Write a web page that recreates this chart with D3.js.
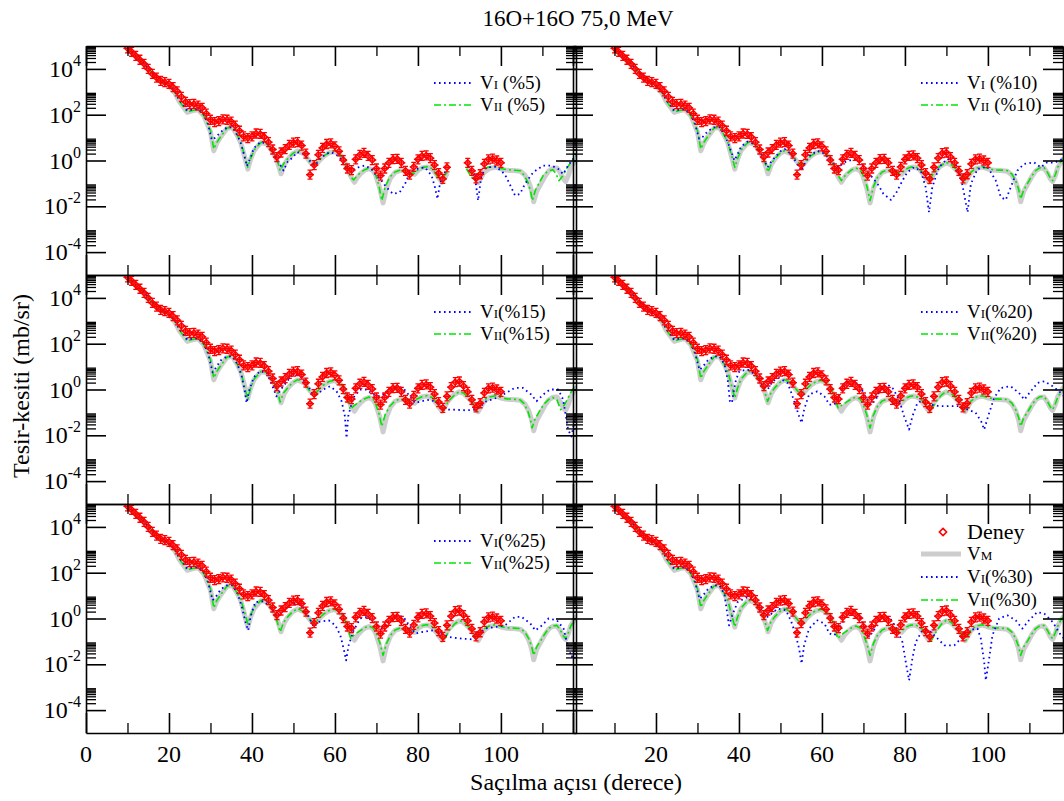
<!DOCTYPE html>
<html>
<head>
<meta charset="utf-8">
<script src="https://cdn.jsdelivr.net/npm/d3@7"></script>
<style>
	body { margin: 0; background: #fff; }
	text { font-family: "Liberation Serif", "Times New Roman", serif; fill: #000; }
</style>
</head>
<body>
<svg id="chart" width="1064" height="801"></svg>
<script>
// values are [angle (deg), log10 of cross section (mb/sr)]
var deney = [[10,4.90],[11,4.75],[12,4.57],[13,4.40],[14,4.22],[15,4.00],[16,3.78],[17,3.62],[18,3.48],[19,3.42],[20,3.35],[21,3.20],[22,3.02],[23,2.78],[24,2.56],[25,2.46],[26,2.47],[27,2.40],[28,2.30],[29,2.05],[30,1.78],[31,1.68],[32,1.72],[33,1.80],[34,1.78],[35,1.70],[36,1.52],[37,1.30],[38,1.05],[39,0.98],[40,1.05],[41,1.18],[42,1.16],[43,1.02],[44,0.80],[45,0.48],[46,0.15],[47,0.35],[48,0.50],[49,0.68],[50,0.78],[51,0.80],[52,0.65],[53,0.30],[54,-0.62],[55,-0.20],[56,0.25],[57,0.55],[58,0.72],[59,0.75],[60,0.62],[61,0.40],[62,0.02],[63,-0.35],[64,-0.42],[65,0.05],[66,0.25],[67,0.33],[68,0.20],[69,0.02],[70,-0.35],[71,-0.66],[72,-0.35],[73,-0.10],[74,0.06],[75,0.07],[76,-0.10],[77,-0.45],[78,-0.62],[79,-0.28],[80,0.05],[81,0.20],[82,0.22],[83,0.10],[84,-0.20],[85,-0.55],[86,-0.80],[87,-0.30],[88,0.10],[89,0.32],[90,0.35],[91,0.15],[92,-0.10],[93,-0.45],[94,-0.78],[95,-0.60],[96,-0.15],[97,0.05],[98,0.08],[99,0.00],[100,-0.10]];

var vM = [[10,4.88],[12,4.55],[14,4.21],[16,3.79],[17.5,3.50],[19,3.37],[20.4,3.18],[21.5,2.93],[22.4,2.60],[23.5,2.33],[24.4,2.10],[25.6,2.17],[27,2.22],[28.4,1.95],[29.4,1.52],[30,1.25],[30.8,0.42],[31.5,0.75],[32.5,1.04],[34,1.41],[35.3,1.44],[36.5,1.08],[37.3,0.78],[38.1,0.25],[39,-0.38],[39.6,0.02],[40.5,0.43],[42.2,0.79],[43.8,0.71],[44.6,0.48],[45.4,0.26],[46.2,-0.10],[47,-0.58],[47.8,-0.18],[48.6,0.05],[49.8,0.29],[51,0.42],[52.6,0.28],[53.5,0.06],[54.2,-0.10],[55,-0.22],[55.6,-0.15],[56.4,0.03],[57.4,0.20],[58.6,0.34],[59.8,0.39],[61,0.29],[61.9,0.12],[63,-0.35],[63.9,-0.72],[64.7,-0.95],[65.4,-0.74],[66.2,-0.57],[67.2,-0.42],[68.2,-0.35],[69.2,-0.45],[69.8,-0.63],[70.8,-1.20],[71.6,-1.85],[72.4,-1.22],[73.4,-0.76],[74.5,-0.52],[75.8,-0.43],[77,-0.47],[78.2,-0.55],[79.2,-0.60],[80.2,-0.40],[81.2,-0.31],[82.2,-0.28],[83.4,-0.37],[84.2,-0.55],[85,-0.75],[85.8,-0.95],[86.6,-0.72],[87.1,-0.54],[88.4,-0.27],[89.9,-0.10],[91,-0.17],[91.9,-0.32],[93,-0.53],[93.9,-0.78],[94.5,-0.97],[95.2,-0.74],[95.9,-0.53],[97.2,-0.35],[98.7,-0.29],[100,-0.37],[101.5,-0.43],[103,-0.44],[104.7,-0.47],[105.8,-0.64],[106.7,-0.93],[107.4,-1.32],[107.9,-1.80],[108.6,-1.36],[109.5,-1.06],[110.5,-0.73],[111.5,-0.46],[112.5,-0.34],[113.5,-0.33],[114.3,-0.53],[115,-0.78],[115.6,-0.92],[116.3,-0.63],[116.8,-0.33],[117.6,-0.07],[118.4,0.12]];

var vI5 = [[10,4.87],[12,4.56],[14,4.23],[16,3.82],[17.5,3.55],[19,3.40],[20.4,3.22],[21.5,2.98],[22.4,2.68],[23.5,2.40],[24.4,2.18],[25.6,2.22],[27,2.25],[28.4,2.00],[29.4,1.60],[30.3,0.90],[31.2,1.00],[32.5,1.25],[34,1.45],[35.3,1.45],[36.5,1.10],[37.3,0.75],[38.1,0.25],[38.8,-0.25],[39.6,0.10],[40.5,0.55],[42,0.80],[43.6,0.75],[45,0.40],[46.2,0.00],[47.6,-0.44],[48.6,-0.05],[49.9,0.14],[50.8,0.36],[52.3,0.30],[53.9,0.00],[55.2,-0.22],[56.4,0.07],[57.6,0.25],[58.8,0.36],[60,0.30],[61.2,0.14],[62.8,-0.37],[63.6,-0.44],[65.6,-0.30],[67.2,-0.22],[68.8,-0.37],[70,-0.66],[71.2,-0.88],[72.4,-1.17],[74,-1.46],[75.6,-1.39],[76.9,-1.02],[78.1,-0.51],[79.7,-0.37],[81.7,-0.30],[83.3,-0.66],[84.1,-1.17],[84.7,-1.68],[85.3,-1.02],[86.1,-0.66],[86.9,-0.37],[88.5,-0.15],[90.2,-0.05],[92.1,-0.22],[93.7,-0.66],[94.5,-1.75],[95.3,-0.66],[96.5,-0.30],[98.9,-0.27],[100.9,-0.59],[102.1,-1.02],[103.4,-1.53],[104.6,-1.46],[105.8,-1.02],[107.8,-0.51],[110.2,-0.22],[112.2,-0.22],[113.8,-0.37],[115,-0.59],[116.2,-0.22],[117.4,0.07],[118.3,0.20]];

var vI10 = [[10,4.87],[12,4.56],[14,4.23],[16,3.82],[17.5,3.55],[19,3.40],[20.4,3.22],[21.5,2.98],[22.4,2.68],[23.5,2.40],[24.4,2.18],[25.6,2.22],[27,2.25],[28.4,2.00],[29.4,1.60],[30.4,0.95],[31.2,1.02],[32.5,1.28],[34,1.45],[35.3,1.45],[36.5,1.12],[37.3,0.80],[38.2,0.35],[38.9,0.00],[39.6,0.25],[40.5,0.60],[42,0.82],[43.6,0.72],[45,0.40],[46,0.05],[46.9,-0.30],[47.8,-0.05],[48.7,0.14],[50,0.40],[51,0.50],[52.5,0.30],[54,-0.15],[55,-0.45],[55.8,-0.15],[57,0.20],[58.9,0.43],[60.6,0.30],[62.6,-0.08],[63.9,-0.30],[65.4,-0.08],[67.8,0.07],[69.4,-0.08],[71,-0.51],[72.2,-0.75],[73.4,-1.02],[74.8,-1.45],[76.6,-1.72],[77.8,-1.45],[79.4,-0.88],[80.6,-0.51],[82.2,-0.30],[83.8,-0.44],[85,-1.17],[85.8,-2.26],[86.6,-1.17],[88.2,-0.30],[90.2,0.07],[92.2,-0.15],[93.5,-0.73],[95.1,-2.26],[95.9,-1.02],[97.5,-0.37],[99.9,-0.27],[101.9,-0.88],[103.1,-1.60],[104.3,-1.72],[105.5,-1.17],[107.1,-0.44],[108.7,-0.15],[111.1,-0.08],[112.7,-0.30],[114.3,-0.08],[116,-0.10],[118.4,0.10]];

var vI15 = [[10,4.87],[12,4.56],[14,4.23],[16,3.82],[17.5,3.55],[19,3.40],[20.4,3.22],[21.5,2.98],[22.4,2.68],[23.5,2.40],[24.4,2.18],[25.6,2.22],[27,2.25],[28.4,2.00],[29.4,1.60],[30.5,0.75],[31.3,0.95],[32.5,1.28],[34,1.45],[35.3,1.45],[36.5,1.10],[37.5,0.60],[38.2,0.00],[38.7,-0.59],[39.4,0.00],[40.5,0.55],[42,0.80],[43.6,0.72],[45.1,0.07],[45.9,-0.30],[47.5,0.14],[49.5,0.58],[51.2,0.65],[53.2,0.29],[54.4,-0.15],[55.6,-0.22],[57.2,0.00],[58.8,0.14],[60.4,-0.08],[61.6,-0.51],[62.4,-1.17],[62.8,-2.12],[63.2,-1.17],[64.4,-0.37],[66,0.00],[67.6,0.00],[69.2,-0.22],[70.8,-0.30],[72.8,-0.08],[74.8,0.14],[76.4,0.07],[78.1,-0.30],[79.3,-0.59],[80.9,-0.51],[82.9,-0.44],[84.9,-0.59],[86.1,-0.88],[88.5,-0.88],[91.7,-0.91],[94.1,-0.88],[96.5,-0.51],[98.9,-0.37],[101.3,-0.15],[103.3,0.07],[105.3,0.07],[107.3,-0.22],[108.6,-0.51],[110.2,-0.22],[111.8,0.00],[113.8,0.00],[115,-0.44],[116.2,-1.75],[117,-2.05],[117.8,-1.30]];

var vI20 = [[10,4.87],[12,4.56],[14,4.23],[16,3.82],[17.5,3.55],[19,3.40],[20.4,3.22],[21.5,2.98],[22.4,2.68],[23.5,2.40],[24.4,2.18],[25.6,2.22],[27,2.25],[28.4,2.00],[29.4,1.60],[30.5,0.85],[31.3,1.00],[32.5,1.28],[34,1.45],[35.3,1.45],[36.5,1.10],[37.3,0.40],[37.8,-0.50],[38.3,-0.59],[38.8,0.00],[39.3,0.43],[40.1,0.80],[42.1,0.87],[44.5,0.58],[45.7,0.14],[46.9,0.00],[48.1,0.36],[49.7,0.50],[51.7,0.29],[52.5,-0.08],[53.7,-0.73],[54.5,-1.17],[55.1,-1.46],[55.7,-0.88],[56.9,-0.22],[58.9,-0.08],[60.6,-0.30],[61.8,-0.66],[63,-0.66],[64.2,-0.22],[65.8,0.29],[67.4,0.36],[69,0.21],[70.2,-0.22],[71.8,-0.66],[73,-0.44],[74.2,0.07],[75.8,0.21],[77,0.07],[78.6,-0.44],[79.8,-1.17],[81,-1.75],[81.8,-1.17],[83,-0.59],[84.6,-0.44],[86.3,-0.66],[88.3,-0.73],[90.7,-0.73],[92.7,-0.73],[95.1,-0.88],[97,-1.00],[98.4,-1.40],[99.1,-1.75],[100.3,-1.03],[101.5,-0.37],[103.1,0.07],[105.5,0.14],[107.5,-0.15],[108.8,-0.44],[110,-0.15],[112,0.29],[113.6,0.36],[115.6,0.14],[117.6,-0.15],[118.4,-0.30]];

var vI25 = [[10,4.87],[12,4.56],[14,4.23],[16,3.82],[17.5,3.55],[19,3.40],[20.4,3.22],[21.5,2.98],[22.4,2.68],[23.5,2.40],[24.4,2.18],[25.6,2.22],[27,2.25],[28.4,2.00],[29.4,1.60],[30.5,0.80],[31.3,0.95],[32.5,1.28],[34,1.45],[35.3,1.45],[36.5,1.10],[37.5,0.55],[38.5,-0.20],[39.1,-0.52],[39.7,0.10],[40.8,0.72],[42.8,0.75],[44.8,0.43],[46,0.07],[47.2,0.28],[49.6,0.65],[52.1,0.58],[53.7,0.07],[54.9,-0.37],[56.1,-0.15],[58.5,-0.08],[60.1,-0.30],[61.3,-0.73],[62.1,-1.32],[62.7,-1.83],[63.3,-1.17],[64.5,-0.52],[66.1,0.00],[67.7,0.07],[69.3,-0.15],[70.5,-0.37],[71.7,-0.44],[72.9,-0.15],[74.9,0.14],[76.5,0.07],[78.2,-0.37],[79.4,-0.66],[81,-0.59],[83.4,-0.52],[85.4,-0.66],[87.4,-0.81],[90.6,-0.88],[93,-0.91],[94.2,-0.73],[96.2,-0.44],[98.6,-0.37],[101,-0.30],[103.4,0.07],[105,0.07],[107.1,-0.22],[108.3,-0.52],[109.9,-0.30],[111.5,0.00],[113.5,-0.08],[115.1,-0.44],[116.3,-1.32],[117.1,-1.68],[118,-1.20]];

var vI30 = [[10,4.87],[12,4.56],[14,4.23],[16,3.82],[17.5,3.55],[19,3.40],[20.4,3.22],[21.5,2.98],[22.4,2.68],[23.5,2.40],[24.4,2.18],[25.6,2.22],[27,2.25],[28.4,2.00],[29.4,1.60],[30.5,0.85],[31.3,1.00],[32.5,1.28],[34,1.45],[35.3,1.45],[36.5,1.05],[37.6,-0.30],[38.5,0.20],[39.7,0.72],[42.1,0.94],[44.1,0.72],[45.7,0.29],[46.9,0.07],[49.3,0.43],[51.3,0.36],[52.5,-0.08],[53.7,-0.73],[54.5,-1.32],[55.1,-1.97],[55.7,-1.17],[56.9,-0.44],[58.9,-0.08],[60.6,-0.22],[61.8,-0.66],[63,-0.73],[64.2,-0.44],[65.8,0.14],[67.4,0.28],[69,0.14],[70.2,-0.37],[71.4,-0.81],[73,-0.37],[74.6,0.07],[76.2,0.07],[77.8,-0.37],[79.4,-1.03],[80.2,-1.90],[81,-2.70],[81.8,-1.75],[82.6,-1.03],[84.2,-0.52],[85.8,-0.52],[87.5,-0.81],[89.5,-1.17],[91.9,-1.17],[93.5,-0.88],[95.1,-0.52],[97.5,-0.44],[98.3,-0.88],[99.1,-1.90],[99.5,-2.70],[100.3,-1.75],[101.1,-0.73],[102.7,0.00],[104.7,0.14],[106.7,-0.08],[108.3,-0.44],[109.9,-0.08],[111.9,0.28],[113.6,0.21],[115.6,-0.15],[117.6,-0.73],[118.4,-0.88]];

var vII5 = [[10,4.87],[12,4.55],[14,4.22],[16,3.80],[17.5,3.52],[19,3.38],[20.4,3.20],[21.5,2.95],[22.4,2.62],[23.5,2.35],[24.4,2.11],[25.6,2.18],[27,2.23],[28.4,1.96],[29.4,1.55],[30,1.31],[30.8,0.50],[31.5,0.78],[32.5,1.05],[34,1.42],[35.3,1.45],[36.5,1.09],[37.3,0.80],[38.1,0.29],[39,-0.30],[39.6,0.05],[40.5,0.45],[42.2,0.80],[43.8,0.72],[44.6,0.50],[45.4,0.29],[46.2,-0.05],[46.8,-0.45],[47.6,-0.15],[48.6,0.07],[49.8,0.30],[51,0.43],[52.6,0.29],[53.5,0.05],[54.2,-0.15],[55,-0.18],[55.6,-0.10],[56.4,0.05],[57.4,0.21],[58.6,0.35],[59.8,0.40],[61,0.30],[61.9,0.14],[62.9,-0.35],[63.7,-0.70],[64.5,-0.85],[65.2,-0.70],[66.2,-0.52],[67.2,-0.40],[68.2,-0.33],[69.2,-0.42],[69.8,-0.62],[70.6,-1.10],[71.3,-1.75],[72.1,-1.15],[73.2,-0.73],[74.5,-0.50],[75.8,-0.41],[77,-0.45],[78.2,-0.55],[79.2,-0.55],[80.2,-0.38],[81.2,-0.30],[82.2,-0.27],[83.4,-0.35],[84.2,-0.55],[85,-0.80],[85.5,-0.88],[86.3,-0.68],[87.1,-0.51],[88.4,-0.25],[89.9,-0.08],[91,-0.15],[91.7,-0.35],[92.6,-0.65],[93.4,-0.85],[94.2,-0.65],[95.2,-0.40],[96.8,-0.30],[98.7,-0.27],[100,-0.35],[101.5,-0.40],[103,-0.42],[104.7,-0.45],[105.6,-0.65],[106.5,-0.95],[107.1,-1.30],[107.6,-1.75],[108.3,-1.30],[109.3,-0.95],[110.3,-0.62],[111.5,-0.45],[112.5,-0.40],[113.2,-0.55],[114,-0.88],[114.8,-0.70],[116,-0.30],[117.5,0.07],[118.3,0.25]];

var vII10 = [[10,4.87],[12,4.55],[14,4.22],[16,3.80],[17.5,3.52],[19,3.38],[20.4,3.20],[21.5,2.95],[22.4,2.62],[23.5,2.35],[24.4,2.11],[25.6,2.18],[27,2.23],[28.4,1.96],[29.4,1.55],[30,1.31],[30.8,0.50],[31.5,0.78],[32.5,1.05],[34,1.42],[35.3,1.45],[36.5,1.09],[37.3,0.80],[38.1,0.29],[39,-0.30],[39.6,0.05],[40.5,0.45],[42.2,0.80],[43.8,0.72],[44.6,0.50],[45.4,0.29],[46.2,-0.05],[47,-0.51],[47.8,-0.15],[48.6,0.07],[49.8,0.30],[51,0.43],[52.6,0.29],[53.5,0.08],[54.2,-0.08],[55,-0.18],[55.6,-0.12],[56.4,0.05],[57.4,0.21],[58.6,0.35],[59.8,0.40],[61,0.30],[61.9,0.14],[63,-0.30],[63.9,-0.66],[64.7,-0.88],[65.4,-0.70],[66.2,-0.55],[67.2,-0.40],[68.2,-0.33],[69.2,-0.42],[69.8,-0.59],[70.8,-1.10],[71.6,-1.75],[72.4,-1.15],[73.4,-0.73],[74.5,-0.50],[75.8,-0.41],[77,-0.45],[78.2,-0.52],[79.2,-0.55],[80.2,-0.38],[81.2,-0.30],[82.2,-0.27],[83.4,-0.35],[84.2,-0.51],[85,-0.70],[85.6,-0.88],[86.4,-0.70],[87.1,-0.51],[88.4,-0.25],[89.9,-0.08],[91,-0.15],[91.9,-0.30],[93,-0.50],[93.9,-0.73],[94.7,-0.90],[95.4,-0.70],[95.9,-0.51],[97.2,-0.33],[98.7,-0.27],[100,-0.35],[101.5,-0.41],[103,-0.42],[104.7,-0.44],[105.8,-0.60],[106.7,-0.88],[107.4,-1.25],[107.9,-1.68],[108.6,-1.30],[109.5,-1.02],[110.5,-0.70],[111.5,-0.44],[112.5,-0.32],[113.5,-0.30],[114.3,-0.50],[115,-0.75],[115.6,-0.88],[116.3,-0.60],[116.8,-0.30],[117.6,-0.05],[118.4,0.14]];

var vII15 = [[10,4.87],[12,4.55],[14,4.22],[16,3.80],[17.5,3.52],[19,3.38],[20.4,3.20],[21.5,2.95],[22.4,2.62],[23.5,2.35],[24.4,2.11],[25.6,2.18],[27,2.23],[28.4,1.96],[29.4,1.55],[30,1.31],[30.8,0.50],[31.5,0.78],[32.5,1.05],[34,1.42],[35.3,1.45],[36.5,1.09],[37.3,0.78],[38.1,0.20],[39,-0.44],[39.6,0.02],[40.5,0.45],[42.2,0.80],[43.8,0.72],[44.6,0.50],[45.4,0.25],[46.2,-0.10],[46.8,-0.55],[47.6,-0.15],[48.6,0.07],[49.8,0.30],[51,0.43],[52.6,0.29],[53.5,0.05],[54.2,-0.15],[55,-0.20],[55.6,-0.12],[56.4,0.05],[57.4,0.21],[58.6,0.35],[59.8,0.40],[61,0.30],[61.9,0.14],[62.9,-0.35],[63.7,-0.88],[64.5,-0.72],[65.4,-0.60],[66.2,-0.50],[67.2,-0.40],[68.2,-0.33],[69.2,-0.42],[69.8,-0.62],[70.6,-1.05],[71.3,-1.61],[72.1,-1.10],[73.2,-0.73],[74.5,-0.50],[75.8,-0.41],[77,-0.45],[78.2,-0.50],[79.3,-0.44],[80.2,-0.38],[81.2,-0.30],[82.2,-0.27],[83.4,-0.35],[84.4,-0.55],[85.2,-0.75],[86,-0.88],[86.8,-0.68],[87.6,-0.45],[88.8,-0.25],[89.9,-0.10],[91,-0.15],[92,-0.32],[93.2,-0.60],[94.1,-0.95],[94.9,-0.70],[95.9,-0.45],[97.2,-0.33],[98.7,-0.27],[100,-0.35],[101.5,-0.41],[103,-0.42],[104.6,-0.45],[105.6,-0.62],[106.5,-0.95],[107.1,-1.30],[107.5,-1.68],[108.2,-1.30],[109.2,-0.98],[110.3,-0.65],[111.5,-0.44],[112.5,-0.35],[113.5,-0.45],[114.4,-0.88],[115.4,-0.65],[116.2,-0.35],[117,-0.08],[118,0.20]];

var vII20 = [[10,4.87],[12,4.55],[14,4.22],[16,3.80],[17.5,3.52],[19,3.38],[20.4,3.20],[21.5,2.95],[22.4,2.62],[23.5,2.35],[24.4,2.11],[25.6,2.18],[27,2.23],[28.4,1.96],[29.4,1.55],[30,1.31],[30.8,0.48],[31.5,0.78],[32.5,1.05],[34,1.42],[35.3,1.45],[36.5,1.09],[37.3,0.80],[38.1,0.25],[39,-0.37],[39.6,0.03],[40.5,0.45],[42.2,0.80],[43.8,0.72],[44.6,0.50],[45.4,0.27],[46.2,-0.10],[46.9,-0.52],[47.7,-0.15],[48.6,0.07],[49.8,0.30],[51,0.43],[52.6,0.29],[53.5,0.08],[54.2,-0.08],[55,-0.18],[55.6,-0.12],[56.4,0.05],[57.4,0.21],[58.6,0.35],[59.8,0.40],[61,0.30],[61.9,0.14],[63,-0.30],[63.9,-0.81],[64.7,-0.70],[65.4,-0.62],[66.2,-0.52],[67.2,-0.40],[68.2,-0.33],[69.2,-0.42],[69.8,-0.59],[70.8,-1.10],[71.6,-1.68],[72.4,-1.12],[73.4,-0.73],[74.5,-0.50],[75.8,-0.41],[77,-0.45],[78.2,-0.52],[79.4,-0.52],[80.2,-0.38],[81.2,-0.30],[82.2,-0.27],[83.4,-0.35],[84.4,-0.51],[85.4,-0.72],[86.2,-0.88],[87,-0.68],[87.8,-0.45],[88.8,-0.25],[89.9,-0.08],[91,-0.15],[91.9,-0.30],[93,-0.50],[93.9,-0.75],[94.7,-0.95],[95.4,-0.70],[95.9,-0.51],[97.2,-0.33],[98.7,-0.27],[100,-0.35],[101.5,-0.41],[103,-0.42],[104.7,-0.44],[105.8,-0.60],[106.7,-0.88],[107.4,-1.22],[107.9,-1.61],[108.6,-1.25],[109.5,-1.00],[110.5,-0.70],[111.5,-0.44],[112.5,-0.32],[113.5,-0.30],[114.3,-0.50],[115,-0.75],[115.6,-0.88],[116.3,-0.60],[116.8,-0.35],[117.6,-0.10],[118.4,0.07]];

var vII25 = [[10,4.87],[12,4.55],[14,4.22],[16,3.80],[17.5,3.52],[19,3.38],[20.4,3.20],[21.5,2.95],[22.4,2.62],[23.5,2.35],[24.4,2.11],[25.6,2.18],[27,2.23],[28.4,1.96],[29.4,1.55],[30,1.31],[30.8,0.46],[31.5,0.78],[32.5,1.05],[34,1.42],[35.3,1.45],[36.5,1.09],[37.3,0.82],[38.1,0.35],[39,-0.23],[39.6,0.10],[40.5,0.48],[42.2,0.80],[43.8,0.72],[44.6,0.50],[45.4,0.25],[46.1,-0.15],[46.8,-0.59],[47.6,-0.18],[48.6,0.07],[49.8,0.30],[51,0.43],[52.6,0.29],[53.5,0.08],[54.2,-0.10],[55,-0.20],[55.6,-0.12],[56.4,0.05],[57.4,0.21],[58.6,0.35],[59.8,0.40],[61,0.30],[61.9,0.14],[63,-0.35],[63.8,-0.88],[64.6,-0.72],[65.4,-0.62],[66.2,-0.52],[67.2,-0.40],[68.2,-0.33],[69.2,-0.42],[69.8,-0.59],[70.8,-1.05],[71.6,-1.61],[72.4,-1.10],[73.4,-0.73],[74.5,-0.50],[75.8,-0.41],[77,-0.45],[78.2,-0.50],[79.4,-0.50],[80.2,-0.38],[81.2,-0.30],[82.2,-0.27],[83.4,-0.35],[84.4,-0.55],[85.4,-0.78],[86.2,-0.95],[87,-0.70],[87.8,-0.45],[88.8,-0.25],[89.9,-0.10],[91,-0.15],[91.9,-0.30],[92.9,-0.52],[93.8,-0.81],[94.6,-0.65],[95.6,-0.48],[97.2,-0.33],[98.7,-0.27],[100,-0.35],[101.5,-0.41],[103,-0.42],[104.7,-0.44],[105.8,-0.60],[106.7,-0.88],[107.4,-1.22],[107.9,-1.61],[108.6,-1.25],[109.5,-1.00],[110.5,-0.70],[111.5,-0.44],[112.5,-0.32],[113.5,-0.30],[114.3,-0.50],[115,-0.75],[115.6,-0.88],[116.3,-0.60],[116.8,-0.35],[117.6,-0.10],[118.3,0.06]];

var vII30 = [[10,4.87],[12,4.55],[14,4.22],[16,3.80],[17.5,3.52],[19,3.38],[20.4,3.20],[21.5,2.95],[22.4,2.62],[23.5,2.35],[24.4,2.11],[25.6,2.18],[27,2.23],[28.4,1.96],[29.4,1.55],[30,1.31],[30.8,0.48],[31.5,0.78],[32.5,1.05],[34,1.42],[35.3,1.45],[36.5,1.09],[37.3,0.80],[38.1,0.25],[39,-0.37],[39.6,0.03],[40.5,0.45],[42.2,0.80],[43.8,0.72],[44.6,0.50],[45.4,0.27],[46.2,-0.10],[46.9,-0.52],[47.7,-0.15],[48.6,0.07],[49.8,0.30],[51,0.43],[52.6,0.29],[53.5,0.08],[54.2,-0.08],[55,-0.20],[55.6,-0.12],[56.4,0.05],[57.4,0.21],[58.6,0.35],[59.8,0.40],[61,0.30],[61.9,0.14],[63,-0.30],[63.8,-0.88],[64.6,-0.72],[65.4,-0.62],[66.2,-0.52],[67.2,-0.40],[68.2,-0.33],[69.2,-0.42],[69.8,-0.59],[70.8,-1.10],[71.6,-1.61],[72.4,-1.10],[73.4,-0.73],[74.5,-0.50],[75.8,-0.41],[77,-0.45],[78.2,-0.52],[79.4,-0.52],[80.2,-0.38],[81.2,-0.30],[82.2,-0.27],[83.4,-0.35],[84.4,-0.51],[85.4,-0.75],[86.4,-0.95],[87.2,-0.68],[88,-0.45],[88.8,-0.25],[89.9,-0.08],[91,-0.15],[91.9,-0.30],[93,-0.50],[93.9,-0.75],[94.7,-0.95],[95.4,-0.70],[95.9,-0.51],[97.2,-0.33],[98.7,-0.27],[100,-0.35],[101.5,-0.41],[103,-0.42],[104.7,-0.44],[105.8,-0.60],[106.7,-0.88],[107.4,-1.22],[107.9,-1.61],[108.6,-1.25],[109.5,-1.00],[110.5,-0.70],[111.5,-0.44],[112.5,-0.32],[113.5,-0.30],[114.3,-0.50],[115,-0.75],[115.6,-0.88],[116.3,-0.60],[116.8,-0.35],[117.6,-0.05],[118.4,0.10]];

var panelTags = [" (%5)", " (%10)", "(%15)", "(%20)", "(%25)", "(%30)"];
var xMajor = [0, 20, 40, 60, 80, 100],
	xMinor = [10, 30, 50, 70, 90, 110],
	xLabelsLeft = [0, 20, 40, 60, 80, 100],
	xLabelsRight = [20, 40, 60, 80, 100],
	yLabelPowers = [-4, -2, 0, 2, 4];
var xMax = 118.1;

var svg = d3.select("#chart");
var cols = [{x0: 86, x1: 576}, {x0: 573, x1: 1063}],
	rows = [{y0: 46, y1: 275}, {y0: 275, y1: 504}, {y0: 504, y1: 733}];

var panels = [
	{col: 0, row: 0, vI: vI5, vII: vII5, gap: [87.3, 91.3]},
	{col: 1, row: 0, vI: vI10, vII: vII10},
	{col: 0, row: 1, vI: vI15, vII: vII15},
	{col: 1, row: 1, vI: vI20, vII: vII20},
	{col: 0, row: 2, vI: vI25, vII: vII25},
	{col: 1, row: 2, vI: vI30, vII: vII30, full: true}
];

var yMajor = [1e-4, 1e-2, 1, 1e2, 1e4], yMinor = [];
yLabelPowers.forEach(function(p) {
	for (var k = 2; k < 10; k++) yMinor.push(k * Math.pow(10, p));
});

var styles = {
	vM: {stroke: "#cdcdcd", width: 5, dash: null},
	vI: {stroke: "#0000ff", width: 1.8, dash: "1.6,3.4"},
	vII: {stroke: "#00e600", width: 1.6, dash: "7,3,2,3"}
};

function styleLine(sel, s) {
	sel.attr("fill", "none")
		.attr("stroke", s.stroke)
		.attr("stroke-width", s.width)
		.attr("stroke-dasharray", s.dash)
		.attr("stroke-linejoin", "round");
}

function marker(sel) {
	sel.append("path").attr("d", "M0,-4.5V4.5M-2.5,-4.5H2.5M-2.5,4.5H2.5M-4,0H4")
		.attr("stroke", "#ff0000").attr("stroke-width", 1.3).attr("fill", "none");
	sel.append("path").attr("d", "M0,-3L3,0L0,3L-3,0Z")
		.attr("stroke", "#ff0000").attr("stroke-width", 1.5).attr("fill", "none");
}

function legendText(g, x, yy, main, sub, tail, size) {
	var t = g.append("text").attr("x", x).attr("y", yy).style("font-size", size + "px");
	t.append("tspan").text(main);
	if (sub) t.append("tspan").style("font-size", Math.round(size * 0.66) + "px").text(sub);
	if (tail) t.append("tspan").text(tail);
}

function drawPanel(p, i) {
	var c = cols[p.col], r = rows[p.row];
	var x = d3.scaleLinear().domain([0, xMax]).range([c.x0, c.x1]);
	var y = d3.scaleLog().domain([1e-5, 1e5]).range([r.y1, r.y0]);
	var g = svg.append("g").attr("class", "panel");

	svg.append("clipPath").attr("id", "clip" + i)
		.append("rect").attr("x", c.x0).attr("y", r.y0)
		.attr("width", c.x1 - c.x0).attr("height", r.y1 - r.y0);

	var ok = function(d) { return !p.gap || d[0] < p.gap[0] || d[0] > p.gap[1]; };
	var line = d3.line()
		.defined(ok)
		.x(function(d) { return x(d[0]); })
		.y(function(d) { return y(Math.pow(10, d[1])); });

	var plot = g.append("g").attr("clip-path", "url(#clip" + i + ")");
	plot.append("path").datum(vM).attr("d", line).call(styleLine, styles.vM);
	plot.append("path").datum(p.vII).attr("d", line).call(styleLine, styles.vII);
	plot.append("path").datum(p.vI).attr("d", line).call(styleLine, styles.vI);
	plot.selectAll(".pt").data(deney.filter(ok)).enter().append("g")
		.attr("class", "pt")
		.attr("transform", function(d) { return "translate(" + x(d[0]) + "," + y(Math.pow(10, d[1])) + ")"; })
		.each(function() { marker(d3.select(this)); });

	// frame with inward ticks on all four sides
	var frame = [
		[d3.axisBottom, x, "translate(0," + r.y1 + ")", xMajor, xMinor],
		[d3.axisTop, x, "translate(0," + r.y0 + ")", xMajor, xMinor],
		[d3.axisLeft, y, "translate(" + c.x0 + ",0)", yMajor, yMinor],
		[d3.axisRight, y, "translate(" + c.x1 + ",0)", yMajor, yMinor]
	];
	frame.forEach(function(f) {
		g.append("g").attr("transform", f[2])
			.call(f[0](f[1]).tickValues(f[3]).tickSize(-20).tickSizeOuter(0).tickFormat(""))
			.call(function(a) { a.selectAll("line,path").attr("stroke", "#000").attr("stroke-width", 1.6); });
		g.append("g").attr("transform", f[2])
			.call(f[0](f[1]).tickValues(f[4]).tickSize(-10).tickSizeOuter(0).tickFormat(""))
			.call(function(a) {
				a.select(".domain").remove();
				a.selectAll("line").attr("stroke", "#000").attr("stroke-width", 1.3);
			});
	});

	// tick labels
	if (p.col === 0) {
		yLabelPowers.forEach(function(e) {
			var t = g.append("text").attr("x", c.x0 - 5).attr("y", y(Math.pow(10, e)) + 8)
				.attr("text-anchor", "end").style("font-size", "24px");
			t.append("tspan").text("10");
			t.append("tspan").attr("dy", -11).style("font-size", "16px").text(e);
		});
	}
	if (p.row === 2) {
		g.selectAll(".xl").data(p.col === 0 ? xLabelsLeft : xLabelsRight).enter().append("text")
			.attr("x", function(d) { return x(d); })
			.attr("y", 762)
			.attr("text-anchor", "middle")
			.style("font-size", "24px")
			.text(function(d) { return d; });
	}

	// legend
	var lx0 = c.x0 + 348, lx1 = c.x0 + 388, tx = c.x0 + 394;
	var rowsY = p.full ? [r.y0 + 28, r.y0 + 50, r.y0 + 73, r.y0 + 96] : [r.y0 + 37, r.y0 + 59];
	var k = 0;
	if (p.full) {
		var m = g.append("g").attr("transform", "translate(" + (lx0 + 22) + "," + rowsY[0] + ")");
		m.append("path").attr("d", "M0,-3.6L3.6,0L0,3.6L-3.6,0Z")
			.attr("stroke", "#ff0000").attr("stroke-width", 1.6).attr("fill", "none");
		legendText(g, tx, rowsY[0] + 7, "Deney", null, null, 22);
		g.append("line").attr("x1", lx0).attr("x2", lx1).attr("y1", rowsY[1]).attr("y2", rowsY[1])
			.call(styleLine, styles.vM);
		legendText(g, tx, rowsY[1] + 6, "V", "M", null, 19);
		k = 2;
	}
	g.append("line").attr("x1", lx0).attr("x2", lx1).attr("y1", rowsY[k]).attr("y2", rowsY[k])
		.call(styleLine, styles.vI);
	legendText(g, tx, rowsY[k] + 6, "V", "I", panelTags[i], 19);
	g.append("line").attr("x1", lx0).attr("x2", lx1).attr("y1", rowsY[k + 1]).attr("y2", rowsY[k + 1])
		.call(styleLine, styles.vII);
	legendText(g, tx, rowsY[k + 1] + 6, "V", "II", panelTags[i], 19);
}

panels.forEach(drawPanel);

svg.append("text").attr("x", 578).attr("y", 26).attr("text-anchor", "middle")
	.style("font-size", "23px").text("16O+16O 75,0 MeV");
svg.append("text").attr("x", 576).attr("y", 790).attr("text-anchor", "middle")
	.style("font-size", "24px").text("Saçılma açısı (derece)");
svg.append("text").attr("transform", "translate(29,386) rotate(-90)").attr("text-anchor", "middle")
	.style("font-size", "24px").text("Tesir-kesiti (mb/sr)");
</script>
</body>
</html>
